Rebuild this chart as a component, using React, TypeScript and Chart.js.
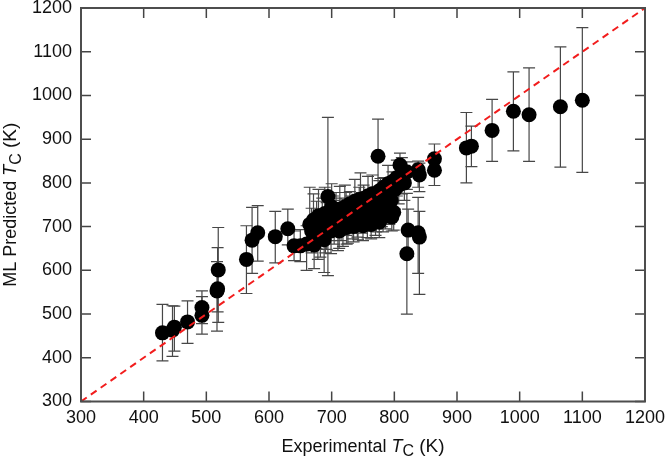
import React, { useEffect, useRef } from "react";
import { Chart, registerables } from "chart.js";

Chart.register(...registerables);

// Axis ticks (K)
const axisTicks = [300, 400, 500, 600, 700, 800, 900, 1000, 1100, 1200];
const diagonal = [300, 1200];

// Experimental Tc (K)
const expTc = [
  430, 446, 449, 470, 493, 493, 517, 518, 519, 564, 573, 582, 610, 630,
  640, 650, 660, 665, 668, 671, 672, 676, 678, 679,
  682, 685, 688, 689, 690, 692, 694, 697, 699, 700,
  702, 704, 707, 710, 712, 713, 715, 718, 721, 723,
  724, 726, 729, 731, 734, 735, 737, 739, 741, 742,
  744, 746, 748, 750, 751, 753, 755, 757, 758, 760,
  762, 763, 765, 767, 769, 770, 771, 774, 776, 776,
  778, 780, 782, 783, 785, 786, 788, 790, 792, 792,
  795, 796, 797, 799, 801, 804, 807, 809, 812, 816,
  820,
  822, 820, 838, 840, 838, 840, 864, 864, 915, 923, 956, 990, 1015, 1065, 1100,
];

// ML predicted Tc (K)
const predTc = [
  457, 463, 470, 482, 515, 497, 553, 558, 601, 625, 669, 686, 677, 695,
  656, 656, 660, 705, 690, 715, 658, 700, 672, 725,
  685, 712, 670, 730, 684, 700, 769, 718, 690, 745,
  738, 708, 725, 695, 690, 740, 715, 702, 745, 728,
  698, 712, 752, 735, 720, 700, 758, 742, 725, 706,
  762, 748, 730, 702, 765, 742, 722, 712, 770, 752,
  732, 705, 775, 758, 740, 715, 725, 861, 782, 710,
  765, 745, 722, 790, 770, 730, 752, 798, 778, 740,
  760, 722, 803, 733, 785, 812, 795, 841, 818, 800,
  825,
  692, 638, 686, 676, 830, 818, 855, 829, 880, 884, 920, 964, 956, 974, 989,
];

// Lower end of error bar (K)
const predLow = [
  393, 403, 415, 433, 478, 454, 461, 505, 481, 547, 593, 621, 617, 658,
  622, 620, 600, 660, 640, 668, 604, 650, 625, 680,
  630, 662, 595, 685, 640, 648, 588, 668, 638, 700,
  695, 660, 678, 645, 650, 695, 668, 655, 700, 680,
  660, 662, 705, 688, 672, 665, 712, 695, 676, 670,
  715, 700, 685, 668, 718, 696, 690, 675, 722, 705,
  692, 672, 728, 712, 698, 680, 688, 790, 735, 675,
  720, 700, 688, 745, 725, 695, 708, 752, 732, 705,
  715, 690, 760, 692, 740, 770, 752, 812, 775, 760,
  785,
  632, 500, 593, 545, 790, 780, 822, 794, 800, 837, 849, 873, 849, 836, 824,
];

// Upper end of error bar (K)
const predHigh = [
  522, 519, 518, 530, 553, 540, 620, 652, 698, 702, 744, 748, 735, 740,
  690, 693, 702, 790, 742, 775, 712, 758, 720, 785,
  738, 765, 735, 790, 728, 755, 950, 772, 742, 798,
  770, 760, 778, 748, 730, 792, 765, 752, 795, 778,
  740, 762, 780, 770, 768, 738, 808, 770, 774, 745,
  790, 823, 778, 740, 795, 775, 760, 752, 815, 785,
  772, 745, 818, 790, 782, 755, 765, 946, 805, 748,
  810, 790, 760, 812, 800, 768, 796, 840, 805, 778,
  805, 760, 825, 775, 815, 852, 820, 868, 858, 840,
  848,
  740, 776, 767, 735, 850, 845, 889, 862, 961, 930, 991, 1054, 1063, 1111, 1155,
];

const FONT = "'Liberation Sans', Arial, Helvetica, sans-serif";

type Seg = { text: string; size: number; italic?: boolean; dy?: number };

function drawRich(ctx: CanvasRenderingContext2D, segs: Seg[], cx: number, baseline: number) {
  const widths = segs.map((s) => {
    ctx.font = `${s.italic ? "italic " : ""}${s.size}px ${FONT}`;
    return ctx.measureText(s.text).width;
  });
  const total = widths.reduce((a, b) => a + b, 0);
  let x = cx - total / 2;
  segs.forEach((s, i) => {
    ctx.font = `${s.italic ? "italic " : ""}${s.size}px ${FONT}`;
    ctx.fillText(s.text, x, baseline + (s.dy || 0));
    x += widths[i];
  });
}

const errorBarPlugin = {
  id: "errorBars",
  beforeDatasetsDraw(chart: any) {
    const xs = chart.scales.x;
    const ys = chart.scales.y;
    const ctx = chart.ctx as CanvasRenderingContext2D;
    ctx.save();
    ctx.strokeStyle = "#474747";
    ctx.lineWidth = 1.2;
    const cap = 6;
    for (let i = 0; i < expTc.length; i++) {
      const px = xs.getPixelForValue(expTc[i]);
      const lo = ys.getPixelForValue(predLow[i]);
      const hi = ys.getPixelForValue(predHigh[i]);
      ctx.beginPath();
      ctx.moveTo(px, lo);
      ctx.lineTo(px, hi);
      ctx.moveTo(px - cap, lo);
      ctx.lineTo(px + cap, lo);
      ctx.moveTo(px - cap, hi);
      ctx.lineTo(px + cap, hi);
      ctx.stroke();
    }
    ctx.restore();
  },
};

const framePlugin = {
  id: "frameTicks",
  afterDraw(chart: any) {
    const ctx = chart.ctx as CanvasRenderingContext2D;
    const { left, right, top, bottom } = chart.chartArea;
    const xs = chart.scales.x;
    const ys = chart.scales.y;
    ctx.save();
    ctx.strokeStyle = "#444";
    ctx.lineWidth = 1.5;
    const tl = 10;
    ctx.beginPath();
    axisTicks.forEach((v) => {
      const px = xs.getPixelForValue(v);
      ctx.moveTo(px, bottom);
      ctx.lineTo(px, bottom - tl);
      ctx.moveTo(px, top);
      ctx.lineTo(px, top + tl);
      const py = ys.getPixelForValue(v);
      ctx.moveTo(left, py);
      ctx.lineTo(left + tl, py);
      ctx.moveTo(right, py);
      ctx.lineTo(right - tl, py);
    });
    ctx.stroke();
    ctx.strokeStyle = "#4d4d4d";
    ctx.lineWidth = 2;
    ctx.strokeRect(left, top, right - left, bottom - top);

    // axis titles
    ctx.fillStyle = "#111";
    ctx.textBaseline = "alphabetic";
    ctx.textAlign = "left";
    const cx = (left + right) / 2;
    drawRich(
      ctx,
      [
        { text: "Experimental ", size: 18 },
        { text: "T", size: 18, italic: true },
        { text: "C", size: 16, dy: 4.5 },
        { text: " (K)", size: 19 },
      ],
      cx,
      451.5
    );
    ctx.save();
    ctx.translate(16, (top + bottom) / 2);
    ctx.rotate(-Math.PI / 2);
    drawRich(
      ctx,
      [
        { text: "ML Predicted ", size: 18 },
        { text: "T", size: 18, italic: true },
        { text: "C", size: 16, dy: 4.5 },
        { text: " (K)", size: 19 },
      ],
      0,
      0
    );
    ctx.restore();
    ctx.restore();
  },
};

export default function App() {
  const canvasRef = useRef<HTMLCanvasElement | null>(null);

  useEffect(() => {
    if (!canvasRef.current) return;
    const points = expTc.map((x, i) => ({ x, y: predTc[i] }));
    const chart = new Chart(canvasRef.current, {
      type: "scatter",
      data: {
        datasets: [
          {
            type: "line",
            label: "y = x",
            data: diagonal.map((v) => ({ x: v, y: v })),
            borderColor: "#f21d1d",
            borderWidth: 2,
            borderDash: [7, 5],
            pointRadius: 0,
            fill: false,
            order: 0,
          } as any,
          {
            type: "scatter",
            label: "ML predicted",
            data: points,
            backgroundColor: "#000",
            borderWidth: 0,
            pointRadius: 7.5,
            pointHoverRadius: 7.5,
            order: 1,
          },
        ],
      },
      options: {
        responsive: false,
        animation: false,
        events: [],
        layout: { padding: { top: 8, right: 21, bottom: 0, left: 0 } },
        plugins: {
          legend: { display: false },
          tooltip: { enabled: false },
        },
        scales: {
          x: {
            type: "linear",
            min: 300,
            max: 1200,
            afterBuildTicks: (s: any) => {
              s.ticks = axisTicks.map((v) => ({ value: v }));
            },
            afterFit: (s: any) => {
              s.height = 56.5;
              s.paddingLeft = 0;
              s.paddingRight = 0;
            },
            grid: { display: false, drawTicks: false, tickLength: 0 },
            border: { display: false },
            ticks: {
              font: { family: FONT, size: 18 },
              color: "#111",
              padding: 6,
              maxRotation: 0,
              autoSkip: false,
              callback: (v: any) => String(v),
            },
          },
          y: {
            type: "linear",
            min: 300,
            max: 1200,
            afterBuildTicks: (s: any) => {
              s.ticks = axisTicks.map((v) => ({ value: v }));
            },
            afterFit: (s: any) => {
              s.width = 81;
              s.paddingTop = 0;
              s.paddingBottom = 0;
            },
            grid: { display: false, drawTicks: false, tickLength: 0 },
            border: { display: false },
            ticks: {
              font: { family: FONT, size: 18 },
              color: "#111",
              padding: 9,
              autoSkip: false,
              callback: (v: any) => String(v),
            },
          },
        },
      },
      plugins: [errorBarPlugin, framePlugin],
    });
    return () => chart.destroy();
  }, []);

  return (
    <div style={{ position: "fixed", left: 0, top: 0, width: 666, height: 458, background: "#fff" }}>
      <canvas ref={canvasRef} width={666} height={458} style={{ display: "block" }} />
    </div>
  );
}
